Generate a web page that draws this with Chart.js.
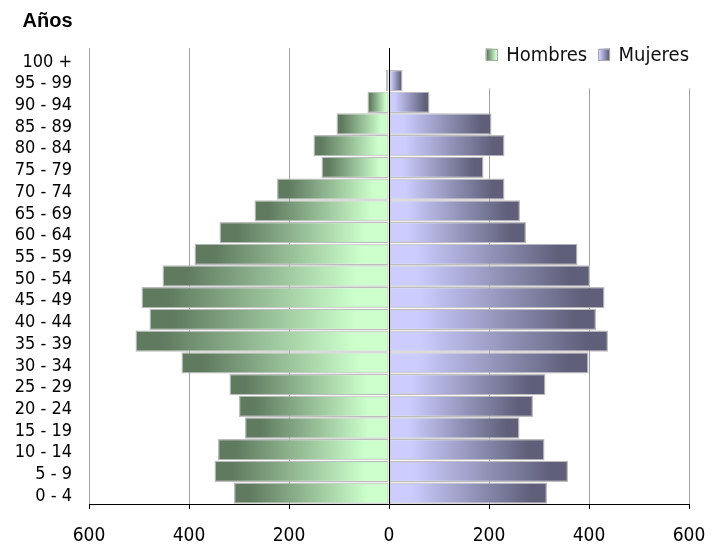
<!DOCTYPE html>
<html>
<head>
<meta charset="utf-8">
<script src="https://cdn.jsdelivr.net/npm/chart.js@4.4.0/dist/chart.umd.min.js"></script>
<style>
html,body{margin:0;padding:0;background:#fff;}
#wrap{width:714px;height:545px;position:relative;}
</style>
</head>
<body>
<div id="wrap"><canvas id="c" width="714" height="545"></canvas></div>
<script>
// ---- data ----
const categories = ['100 +','95 - 99','90 - 94','85 - 89','80 - 84','75 - 79','70 - 74','65 - 69','60 - 64','55 - 59','50 - 54','45 - 49','40 - 44','35 - 39','30 - 34','25 - 29','20 - 24','15 - 19','10 - 14','5 - 9','0 - 4'];
const hombres = [0, 6, 43, 105, 151, 135, 224, 269, 339, 389, 453, 495, 479, 507, 415, 319, 300, 288, 342, 349, 310];
const mujeres = [0, 27, 81, 205, 231, 189, 231, 262, 274, 377, 402, 431, 414, 438, 399, 313, 288, 261, 311, 358, 316];
const xTickLabels = ['600','400','200','0','200','400','600'];
const seriesNames = ['Hombres','Mujeres'];
const titleText = 'Años';

// ---- styles ----
const COND = "'DejaVu Sans Condensed', 'Liberation Sans Narrow', 'DejaVu Sans', sans-serif";
const H_DARK = '#5f7a5f', H_LIGHT = '#ccffcc';
const M_DARK = '#5f5f7a', M_LIGHT = '#ccccff';

function makeGrad(ctx, xDark, xLight, dark, light) {
  const g = ctx.createLinearGradient(xDark, 0, xLight, 0);
  g.addColorStop(0, dark);
  g.addColorStop(0.1, dark);
  g.addColorStop(0.86, light);
  g.addColorStop(1, light);
  return g;
}

function barFill(dark, light, fallback) {
  return function(context) {
    const chart = context.chart;
    const xs = chart.scales && chart.scales.x;
    if (context.type !== 'data' || !xs || !chart.chartArea) return fallback;
    const x0 = xs.getPixelForValue(0);
    const x1 = xs.getPixelForValue(context.raw);
    if (!isFinite(x0) || !isFinite(x1) || Math.abs(x1 - x0) < 0.5) return fallback;
    return makeGrad(chart.ctx, x1, x0, dark, light);
  };
}

const titlePlugin = {
  id: 'cornerTitle',
  afterDraw(chart) {
    const ctx = chart.ctx;
    ctx.save();
    ctx.font = "bold 20px 'Liberation Sans', Arial, sans-serif";
    ctx.fillStyle = '#000';
    ctx.textAlign = 'left';
    ctx.textBaseline = 'middle';
    ctx.fillText(titleText, 22.5, 21.8);
    ctx.restore();
  }
};

const zeroLinePlugin = {
  id: 'zeroLine',
  afterDatasetsDraw(chart) {
    const {ctx, chartArea} = chart;
    const x = Math.round(chart.scales.x.getPixelForValue(0)) + 0.5;
    ctx.save();
    ctx.strokeStyle = '#000';
    ctx.lineWidth = 1;
    ctx.beginPath();
    ctx.moveTo(x, chartArea.top);
    ctx.lineTo(x, chartArea.bottom);
    ctx.stroke();
    ctx.restore();
  }
};

const legendPlugin = {
  id: 'pyrLegend',
  afterDraw(chart) {
    const {ctx, chartArea} = chart;
    ctx.save();
    ctx.font = '20px ' + COND;
    const w1 = ctx.measureText(seriesNames[0]).width;
    const w2 = ctx.measureText(seriesNames[1]).width;
    const box = 12, gapBT = 8.5, gapItems = 11;
    const right = chartArea.right;
    const t2 = right - w2;
    const b2 = t2 - gapBT - box;
    const t1 = b2 - gapItems - w1;
    const b1 = t1 - gapBT - box;
    const yTop = chartArea.top;
    const cy = yTop + 6.5;
    // white background of the legend box (hides grid lines under it)
    ctx.fillStyle = '#fff';
    ctx.fillRect(b1 - 6, yTop - 1, right + 14 - (b1 - 6), 89 - yTop + 0.5);
    const items = [
      {bx: b1, tx: t1, name: seriesNames[0], g: makeGrad(ctx, b1, b1 + box, H_DARK, H_LIGHT)},
      {bx: b2, tx: t2, name: seriesNames[1], g: makeGrad(ctx, b2 + box, b2, M_DARK, M_LIGHT)}
    ];
    items.forEach(it => {
      ctx.fillStyle = it.g;
      ctx.fillRect(it.bx, cy - box / 2, box, box);
      ctx.strokeStyle = '#a8a8a8';
      ctx.lineWidth = 1;
      ctx.strokeRect(Math.round(it.bx) + 0.5, Math.round(cy - box / 2) + 0.5, box - 1, box - 1);
      ctx.fillStyle = '#111';
      ctx.textBaseline = 'middle';
      ctx.textAlign = 'left';
      ctx.fillText(it.name, it.tx, cy + 1);
    });
    ctx.restore();
  }
};

new Chart(document.getElementById('c'), {
  type: 'bar',
  data: {
    labels: categories,
    datasets: [
      {
        label: seriesNames[0],
        data: hombres.map(v => -v),
        backgroundColor: barFill(H_DARK, H_LIGHT, '#9fc89f'),
        borderColor: '#bdbdbd',
        borderWidth: 1.2,
        borderSkipped: false,
        categoryPercentage: 1,
        barPercentage: 0.98,
        grouped: false
      },
      {
        label: seriesNames[1],
        data: mujeres,
        backgroundColor: barFill(M_DARK, M_LIGHT, '#a0a0c8'),
        borderColor: '#bdbdbd',
        borderWidth: 1.2,
        borderSkipped: false,
        categoryPercentage: 1,
        barPercentage: 0.98,
        grouped: false
      }
    ]
  },
  options: {
    indexAxis: 'y',
    responsive: false,
    animation: false,
    layout: {padding: {left: 0, right: 25, top: 48, bottom: 0}},
    scales: {
      x: {
        type: 'linear',
        min: -600,
        max: 600,
        afterFit(scale) { scale.height = 41; scale.paddingLeft = 0; scale.paddingRight = 0; },
        ticks: {
          stepSize: 200,
          padding: 16,
          color: '#000',
          font: {family: COND, size: 19},
          maxRotation: 0,
          callback: (v, i) => xTickLabels[i] !== undefined ? xTickLabels[i] : String(Math.abs(v))
        },
        grid: {
          color: ctx => (ctx.tick && ctx.tick.value === 0) ? '#000' : '#a0a0a0',
          tickColor: '#000',
          tickLength: 5,
          lineWidth: 1
        },
        border: {display: true, color: '#000', width: 1}
      },
      y: {
        type: 'category',
        afterFit(scale) { scale.width = 89; scale.paddingTop = 0; scale.paddingBottom = 0; },
        grid: {display: false, drawTicks: false},
        border: {display: false},
        ticks: {
          padding: 17,
          labelOffset: 3,
          color: '#000',
          font: {family: COND, size: 18},
          autoSkip: false
        }
      }
    },
    plugins: {
      legend: {display: false},
      tooltip: {enabled: false},
      title: {display: false}
    }
  },
  plugins: [zeroLinePlugin, legendPlugin, titlePlugin]
});
</script>
</body>
</html>
